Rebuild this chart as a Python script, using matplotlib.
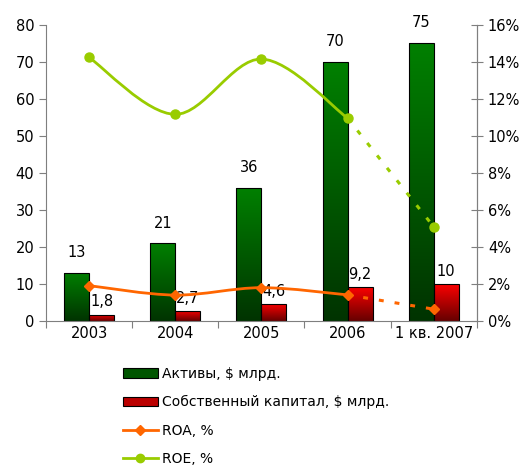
import numpy as np
import matplotlib
matplotlib.use("Agg")
import matplotlib.pyplot as plt
from matplotlib.path import Path
from matplotlib.patches import PathPatch, Patch
from matplotlib.lines import Line2D
from matplotlib.colors import LinearSegmentedColormap

# ── Data ───────────────────────────────────────────────
categories = ["2003", "2004", "2005", "2006", "1 кв. 2007"]
assets = [13, 21, 36, 70, 75]                 # Активы, $ млрд.
equity = [1.8, 2.7, 4.6, 9.2, 10]             # Собственный капитал, $ млрд.
equity_labels = ["1,8", "2,7", "4,6", "9,2", "10"]
roa = [1.93, 1.42, 1.82, 1.43, 0.66]          # %
roe = [14.23, 11.16, 14.14, 10.96, 5.1]       # %

plt.rcParams["font.family"] = ["DejaVu Sans"]
plt.rcParams["font.size"] = 10

GREEN_LINE = "#99cc00"
ORANGE = "#ff6600"
AXIS_COL = "#7f7f7f"

fig = plt.figure(figsize=(5.28, 4.72), dpi=100)
ax = fig.add_axes([0.087, 0.319, 0.816, 0.629])
ax2 = ax.twinx()

x = np.arange(len(categories))
w = 0.29


# ── Bars with vertical gradient fill ───────────────────
def gradient_bars(bars, top_col, bottom_col):
    cmap = LinearSegmentedColormap.from_list("g", [bottom_col, top_col])
    grad = np.linspace(0, 1, 256).reshape(-1, 1)
    for b in bars:
        bx, by = b.get_x(), b.get_y()
        bw, bh = b.get_width(), b.get_height()
        b.set_facecolor("none")
        im = ax.imshow(grad, cmap=cmap, aspect="auto", origin="lower",
                       extent=(bx, bx + bw, by, by + bh), zorder=1)
        im.set_clip_path(b)


bars_a = ax.bar(x - w / 2, assets, w, edgecolor="black", linewidth=0.8, zorder=2)
bars_e = ax.bar(x + w / 2, equity, w, edgecolor="black", linewidth=0.8, zorder=2)
gradient_bars(bars_a, "#008000", "#003300")
gradient_bars(bars_e, "#ff0000", "#660000")

for i in range(len(categories)):
    ax.text(x[i] - w / 2, assets[i] + 5.5, str(assets[i]), ha="center", va="center", fontsize=10.5)
    ax.text(x[i] + w / 2, equity[i] + 3.5, equity_labels[i], ha="center", va="center", fontsize=10.5)

ax.set_xlim(-0.5, len(categories) - 0.5)
ax.set_ylim(0, 80)
ax.set_yticks(range(0, 81, 10))
ax.set_xticks(np.arange(-0.5, len(categories), 1.0))
ax.set_xticklabels([])
ax.set_xticks(x, minor=True)
ax.set_xticklabels(categories, minor=True, fontsize=10.5)
ax.tick_params(axis="x", which="minor", length=0, pad=3)
ax.tick_params(axis="x", which="major", length=5, color=AXIS_COL)
ax.tick_params(axis="y", length=5, color=AXIS_COL, labelsize=10.5)


# ── Smoothed lines (Excel-like bezier through the points) ──
def smooth_path(xs, ys):
    pts = np.column_stack([xs, ys]).astype(float)
    verts = [pts[0]]
    codes = [Path.MOVETO]
    n = len(pts)
    for i in range(n - 1):
        p0 = pts[max(i - 1, 0)]
        p1 = pts[i]
        p2 = pts[i + 1]
        p3 = pts[min(i + 2, n - 1)]
        c1 = p1 + (p2 - p0) / 6
        c2 = p2 - (p3 - p1) / 6
        verts += [c1, c2, p2]
        codes += [Path.CURVE4] * 3
    return Path(verts, codes)


for vals, col, mk, ms in [(roe, GREEN_LINE, "o", 6.5), (roa, ORANGE, "D", 5.5)]:
    ax2.add_patch(PathPatch(smooth_path(x[:4], vals[:4]), facecolor="none",
                            edgecolor=col, linewidth=2.0, zorder=3))
    ax2.plot(x[3:], vals[3:], color=col, linewidth=2.2, linestyle=(0, (1.6, 3.6)), zorder=3)
    ax2.plot(x, vals, linestyle="none", marker=mk, markersize=ms, color=col, zorder=4)

ax2.set_ylim(0, 16)
ax2.set_yticks(range(0, 17, 2))
ax2.set_yticklabels([f"{v}%" for v in range(0, 17, 2)])
ax2.tick_params(axis="y", direction="inout", length=9, color=AXIS_COL, labelsize=10.5)

for a in (ax, ax2):
    a.spines["top"].set_visible(False)
    for s in ("left", "right", "bottom"):
        a.spines[s].set_color(AXIS_COL)
ax2.spines["left"].set_visible(False)
ax2.spines["bottom"].set_visible(False)

# ── Legend below the chart ─────────────────────────────
handles = [
    Patch(facecolor="#005500", edgecolor="black", linewidth=0.8),
    Patch(facecolor="#bb0000", edgecolor="black", linewidth=0.8),
    Line2D([], [], color=ORANGE, linewidth=2.0, marker="D", markersize=5),
    Line2D([], [], color=GREEN_LINE, linewidth=2.0, marker="o", markersize=6),
]
labels = ["Активы, $ млрд.", "Собственный капитал, $ млрд.", "ROA, %", "ROE, %"]
fig.legend(handles, labels, loc="upper left", bbox_to_anchor=(0.233, 0.222),
           frameon=False, fontsize=10, handlelength=2.5, labelspacing=1.02,
           handletextpad=0.3, borderaxespad=0, borderpad=0)

fig.savefig("out.png", dpi=100)
